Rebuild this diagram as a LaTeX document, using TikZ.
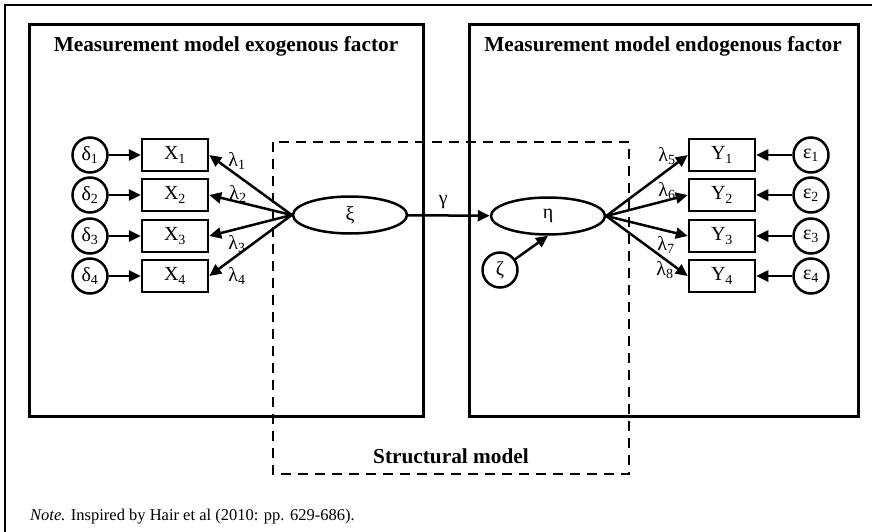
\documentclass[tikz,border=0pt]{standalone}
\usepackage{fontspec}
\setmainfont{Liberation Serif}
\usetikzlibrary{positioning}
\usetikzlibrary{shapes.geometric}
\usetikzlibrary{arrows.meta}

\begin{document}
\begin{tikzpicture}[x=1pt, y=-1pt,
    indicator/.style={draw, line width=2.5pt, minimum width=66pt, minimum height=32pt, inner sep=0pt, font=\fontsize{20}{20}\selectfont},
    errterm/.style={draw, circle, line width=2.5pt, minimum size=35pt, inner sep=0pt, font=\fontsize{20}{20}\selectfont},
    factor/.style={draw, ellipse, line width=2.5pt, minimum width=114pt, minimum height=37pt, inner sep=0pt, font=\fontsize{20}{20}\selectfont},
    loading/.style={line width=2.5pt, -{Triangle[length=12pt, width=11pt]}},
    modelbox/.style={line width=3pt},
    lab/.style={inner sep=0pt, font=\fontsize{20}{20}\selectfont},
    boxtitle/.style={inner sep=0pt, font=\bfseries\fontsize{21.3}{21.3}\selectfont}]

    \useasboundingbox (0,0) rectangle (872,532);
    \draw[line width=2.5pt] (5,545) -- (5,5) -- (885,5);

    % measurement and structural blocks
    \draw[modelbox] (29,25) rectangle (423,416);
    \draw[modelbox] (469,25) rectangle (858,416);
    \draw[line width=2.5pt, dash pattern=on 10pt off 7pt] (273,142) rectangle (629,474);

    \node[boxtitle] (texo) at (226,46) {Measurement model exogenous factor};
    \node[boxtitle] (tendo) at (663,46) {Measurement model endogenous factor};
    \node[boxtitle] (tstruct) at (451,456) {Structural model};
    \node[anchor=west, inner sep=0pt, font=\fontsize{16.5}{16.5}\selectfont] (note) at (30,517) {\textit{Note.} Inspired by Hair et al (2010: pp. 629-686).};

    % latent factors
    \node[factor] (xi) at (350,215) {ξ};
    \node[factor] (eta) at (548,216) {η};
    \node[errterm] (zeta) at (500,270) {ζ};

    \foreach \i/\y in {1/155, 2/195, 3/236, 4/276} {
        \node[indicator] (x\i) at (175,\y) {X\textsubscript{\i}};
        \node[errterm, left=32pt of x\i] (d\i) {δ\textsubscript{\i}};
        \node[indicator] (y\i) at (722,\y) {Y\textsubscript{\i}};
        \node[errterm, right=36pt of y\i] (e\i) {ε\textsubscript{\i}};

        \draw[loading] (d\i) -- (x\i);
        \draw[loading] (e\i) -- (y\i);
        \draw[loading] (xi.west) -- (x\i.east);
        \draw[loading] (eta.east) -- (y\i.west);
    }

    \draw[loading] (xi) -- node[lab, pos=0.43, above=5pt] (gamma) {γ} (eta);
    \draw[loading] (zeta) -- (eta.south);

    % loadings
    \foreach \i/\x/\y in {1/237/161, 2/238/194, 3/237/244, 4/237/276, 5/667/156, 6/667/191, 7/666/245, 8/665/270} {
        \node[lab] (l\i) at (\x,\y) {λ\textsubscript{\i}};
    }
\end{tikzpicture}
\end{document}
